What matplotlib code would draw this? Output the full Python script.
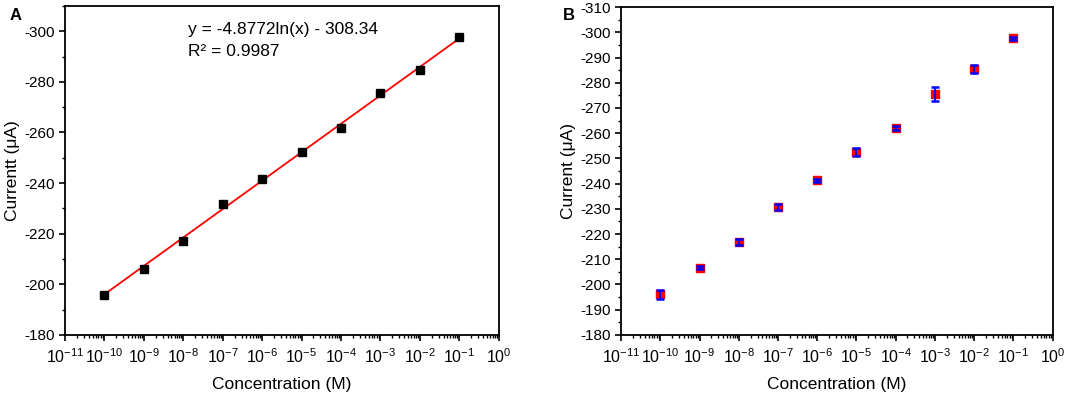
import matplotlib
matplotlib.use("Agg")
import matplotlib.pyplot as plt
import numpy as np
from matplotlib.ticker import MultipleLocator, LogLocator, NullFormatter

plt.rcParams['font.family'] = ['Liberation Sans', 'DejaVu Sans']
plt.rcParams['mathtext.fontset'] = 'custom'
plt.rcParams['mathtext.rm'] = 'Liberation Sans'
plt.rcParams['mathtext.it'] = 'Liberation Sans:italic'
plt.rcParams['axes.unicode_minus'] = False

# --- data
conc = [1e-10, 1e-9, 1e-8, 1e-7, 1e-6, 1e-5, 1e-4, 1e-3, 1e-2, 1e-1]
current_a = [-195.9, -206.1, -217.0, -231.8, -241.6, -252.3, -261.9, -275.6, -284.5, -297.6]
current_b = [-196.1, -206.7, -216.9, -230.7, -241.4, -252.4, -262.0, -275.4, -285.4, -297.7]
err_b = [1.8, 0.7, 1.2, 1.3, 0.6, 1.6, 0.8, 2.8, 1.7, 0.6]
fit_slope, fit_icpt = -4.8772, -308.34

fig = plt.figure(figsize=(10.84, 3.94), dpi=100)
axA = fig.add_axes([0.060, 0.150, 0.400, 0.835])
axB = fig.add_axes([0.573, 0.150, 0.398, 0.832])


def style(ax, major, minor):
    ax.set_xscale('log')
    ax.set_xlim(1e-11, 1e0)
    ax.set_ylim(-180, -310)
    ax.xaxis.set_major_locator(LogLocator(base=10, numticks=20))
    ax.xaxis.set_minor_locator(LogLocator(base=10, subs=np.arange(2, 10), numticks=20))
    ax.xaxis.set_minor_formatter(NullFormatter())
    ax.yaxis.set_major_locator(MultipleLocator(major))
    ax.yaxis.set_minor_locator(MultipleLocator(minor))
    ax.tick_params(which='both', direction='out', top=False, right=False, labelsize=11)
    ax.tick_params(axis='x', which='major', labelsize=11.5, pad=5)
    ax.tick_params(which='major', length=4, width=1.2)
    ax.tick_params(which='minor', length=2.5, width=1)
    for s in ax.spines.values():
        s.set_linewidth(1.3)
    ax.set_xlabel('Concentration (M)', fontsize=12.5, labelpad=8)


# --- panel A
style(axA, 20, 10)
xf = np.logspace(np.log10(conc[0]), np.log10(conc[-1]), 50)
axA.plot(xf, fit_slope * np.log(xf) + fit_icpt, color='red', lw=1.3, zorder=2)
axA.plot(conc, current_a, 's', color='black', ms=5.3, zorder=3)
axA.set_ylabel('Currentt (\u03bcA)', fontsize=12.5, labelpad=3)
axA.text(0.283, 0.927, 'y = -4.8772ln(x) - 308.34', transform=axA.transAxes,
         fontsize=12.5, va='center')
axA.text(0.283, 0.862, 'R\u00b2 = 0.9987', transform=axA.transAxes,
         fontsize=12.5, va='center')
fig.text(0.009, 0.948, 'A', fontsize=12, fontweight='bold')

# --- panel B
style(axB, 10, 5)
axB.plot(conc, current_b, 's', color='red', ms=5.8, zorder=2)
axB.errorbar(conc, current_b, yerr=err_b, fmt='none', ecolor='blue', elinewidth=1.3,
             capsize=2.8, capthick=1.8, zorder=3)
axB.set_ylabel('Current (\u03bcA)', fontsize=12.5, labelpad=3)
fig.text(0.519, 0.948, 'B', fontsize=12, fontweight='bold')

fig.savefig('out.png', dpi=100)
